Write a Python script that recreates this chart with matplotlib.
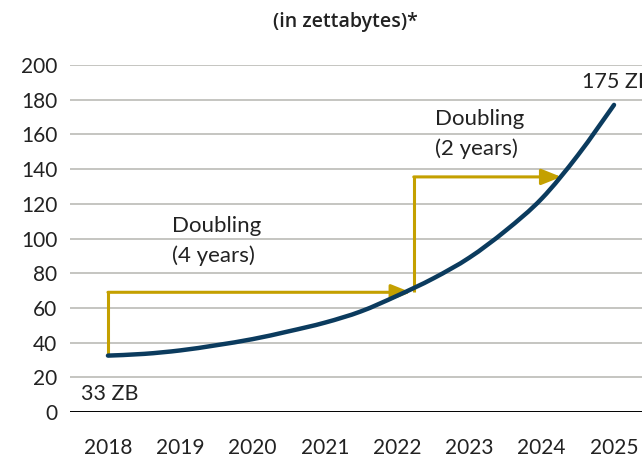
import matplotlib
matplotlib.use("Agg")
import matplotlib.pyplot as plt
from matplotlib.patches import FancyArrowPatch, PathPatch
from matplotlib.path import Path

plt.rcParams['font.family'] = ['Lato', 'DejaVu Sans']

# Data (zettabytes)
years = [2018, 2018.5, 2019, 2019.5, 2020, 2020.5, 2021, 2021.5,
         2022, 2022.5, 2023, 2023.5, 2024, 2024.5, 2025]
values = [32.5, 33.5, 35.5, 38.5, 42, 46.5, 51.5, 58,
          67, 77, 89, 104.5, 123, 148, 177]
tick_years = [2018, 2019, 2020, 2021, 2022, 2023, 2024, 2025]
y_ticks = [0, 20, 40, 60, 80, 100, 120, 140, 160, 180, 200]

# Doubling annotation path points
doubling1 = [(2018, 32.5), (2018, 69), (2022.19, 69)]
doubling2 = [(2022.23, 69), (2022.23, 135.5), (2024.27, 135.5)]

navy = '#0B3B5E'
gold = '#C4A000'
grid_c = '#B5B5B0'
text_c = '#222222'

fig = plt.figure(figsize=(6.42, 4.57), dpi=100)
ax = fig.add_axes([70/642, 1 - 412/457, 1 - 70/642, (412 - 65)/457])

ax.set_xlim(2017.475, 2025.387)
ax.set_ylim(0, 200)

for y in y_ticks[1:]:
    ax.axhline(y, color=grid_c, lw=1.1, zorder=0)
ax.axhline(0, color='black', lw=1.4, zorder=1)

# Smooth line through the data points (Catmull-Rom rendered as Bezier path)
pts = list(zip(years, values))
verts = [pts[0]]
codes = [Path.MOVETO]
n = len(pts)
for i in range(n - 1):
    p0 = pts[i - 1] if i > 0 else pts[i]
    p1 = pts[i]
    p2 = pts[i + 1]
    p3 = pts[i + 2] if i + 2 < n else pts[i + 1]
    c1 = (p1[0] + (p2[0] - p0[0]) / 6, p1[1] + (p2[1] - p0[1]) / 6)
    c2 = (p2[0] - (p3[0] - p1[0]) / 6, p2[1] - (p3[1] - p1[1]) / 6)
    verts += [c1, c2, p2]
    codes += [Path.CURVE4] * 3
ax.add_patch(PathPatch(Path(verts, codes), fill=False, edgecolor=navy, lw=3.2,
                       capstyle='round', zorder=3))

def draw_doubling(pts):
    xs = [p[0] for p in pts[:-1]]
    ys = [p[1] for p in pts[:-1]]
    ax.plot(xs, ys, color=gold, lw=2.2, zorder=2, solid_capstyle='butt')
    arr = FancyArrowPatch(pts[-2], pts[-1],
                          arrowstyle='-|>,head_length=0.6,head_width=0.24',
                          mutation_scale=20, color=gold, lw=2.2,
                          shrinkA=0, shrinkB=0, zorder=2)
    ax.add_patch(arr)

draw_doubling(doubling1)
draw_doubling(doubling2)

for s in ax.spines.values():
    s.set_visible(False)

ax.set_yticks(y_ticks)
ax.set_yticklabels([str(v) for v in y_ticks], fontsize=15, color=text_c)
ax.set_xticks(tick_years)
ax.set_xticklabels([str(v) for v in tick_years], fontsize=15, color=text_c)
ax.tick_params(axis='both', length=0)
ax.tick_params(axis='x', pad=18.5)
ax.tick_params(axis='y', pad=9)

fig.text(345/642, 1 - 22/457, '(in zettabytes)*', ha='center', va='center',
         fontsize=14, fontweight='semibold', color=text_c,
         family=['Open Sans', 'DejaVu Sans'])

lbl_kw = dict(fontsize=15.5, color=text_c, va='center', ha='left')
txt_kw = dict(fontsize=16, color=text_c, va='center', ha='left')
ax.text(2017.63, 10.5, '33 ZB', **lbl_kw)
ax.text(2024.56, 190, '175 ZB', clip_on=False, **lbl_kw)
ax.text(2018.88, 107, 'Doubling', **txt_kw)
ax.text(2018.88, 90, '(4 years)', **txt_kw)
ax.text(2022.53, 169, 'Doubling', **txt_kw)
ax.text(2022.53, 152, '(2 years)', **txt_kw)

fig.savefig('out.png', dpi=100)
